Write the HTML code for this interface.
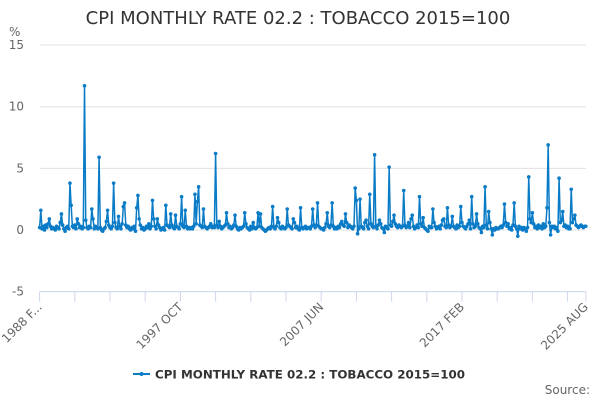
<!DOCTYPE html>
<html><head><meta charset="utf-8">
<style>
body{margin:0;background:#fff;font-family:"DejaVu Sans","Liberation Sans",sans-serif;}
svg{display:block;font-family:"DejaVu Sans","Liberation Sans",sans-serif;}
</style></head>
<body>
<svg id="chart" width="600" height="400">
<text x="298" y="24" text-anchor="middle" font-size="18" fill="#333">CPI MONTHLY RATE 02.2 : TOBACCO 2015=100</text>
<text x="9" y="36" font-size="12" fill="#666">%</text>
<g id="grid"></g><g id="yticks"></g><g id="xaxis"></g><g id="series"></g>
<g>
<line x1="133" y1="374" x2="150" y2="374" stroke="#0a7bc6" stroke-width="2"/>
<circle cx="141.5" cy="374" r="2" fill="#0a7bc6"/>
<text x="155" y="378.5" font-size="11.5" font-weight="bold" fill="#333" textLength="310" lengthAdjust="spacingAndGlyphs">CPI MONTHLY RATE 02.2 : TOBACCO 2015=100</text>
</g>
<text x="590" y="394" text-anchor="end" font-size="12" fill="#666">Source:</text>
</svg>
<script>
const yTicks=[15,10,5,0,-5];
const xTickLabels=["1988 F...","1997 OCT","2007 JUN","2017 FEB","2025 AUG"];
const xTickIdx=[0,116,232,348,450];
const values=[
0.2,1.6,0.1,0.3,0,0.4,0.2,0.5,0.9,0.3,0.1,
0.2,0.1,0,0.3,0.2,0.1,0.6,1.3,0.4,0.1,-0.1,0.2,
0.3,0.1,3.8,2.0,0.3,0.2,0.4,0.1,0.9,0.5,0.2,0.3,
0.1,0.2,11.7,0.8,0.2,0.1,0.3,0.2,1.7,0.9,0.1,0.3,
0.2,0.1,5.9,0.2,0,-0.1,0.1,0.2,0.7,1.6,0.4,0.2,
0.1,0.3,3.8,0.6,0.2,0.1,1.1,0.3,0.1,0.5,1.9,2.2,
0.4,0.2,0.3,0.1,0,0.2,0.1,0.3,-0.1,1.8,2.8,0.9,
0.4,0.1,0.2,0,0.1,0.3,0.2,0.5,0.1,0.3,2.4,0.9,
0.3,0.1,0.9,0.4,0.2,0,0.1,0.2,0,2.0,0.4,0.3,
0.2,1.3,0.4,0.2,0.1,1.2,0.3,0.2,0.1,0.5,2.7,0.3,
0.2,1.6,0.3,0.1,0.2,0.1,0.2,0.1,0.3,2.9,0.5,2.3,
3.5,0.4,0.3,0.2,1.7,0.3,0.2,0.1,0.2,0.3,0.5,0.2,
0.3,0.2,6.2,0.4,0.2,0.7,0.3,0.1,0.2,0.3,0.4,1.4,
0.5,0.2,0.3,0.1,0.2,0.4,1.2,0.3,0.1,0,0.2,0.1,
0.2,0.3,1.4,0.5,0.2,0.1,0,0.3,0.1,0.6,0.2,0.1,
0.2,1.4,0.3,1.3,0.2,0.1,0,-0.1,0,0.1,0.2,0.1,
0.3,1.9,0.2,0.1,0.3,1.0,0.6,0.2,0.1,0.3,0.2,0.1,
0.2,1.7,0.4,0.3,0.2,0.1,0.9,0.6,0.2,0.3,0.1,0,
1.8,0.2,0.1,0.2,0.3,0.1,0.2,0.2,0.1,0.3,1.7,0.4,
0.2,0.4,2.2,0.3,0.2,0.1,0.1,0,0.2,0.5,1.4,0.3,
0.2,0.4,2.2,0.3,0.1,0.2,0.1,0.3,0.2,0.5,0.7,0.4,
0.3,1.3,0.6,0.2,0.4,0.3,0.2,0.1,0.3,3.4,2.4,-0.3,
0.1,2.5,0.3,0.2,0.1,0.6,0.8,0.3,0.1,2.9,0.5,0.3,
0.2,6.1,0.3,0.1,0.4,0.8,0.5,0.2,0.1,-0.2,0.3,0.2,
0.1,5.1,0.4,0.3,0.7,1.2,0.5,0.3,0.2,0.4,0.3,0.2,
0.3,3.2,0.4,0.2,0.3,0.6,0.2,0.9,1.2,0.3,0.1,0.2,
0.4,0.2,2.7,0.5,0.3,1.0,0.2,0.1,0,-0.1,0.3,0.2,
0.2,1.7,0.6,0.3,0.1,0.2,0.3,0.1,0.4,0.8,0.9,0.3,
0.2,1.8,0.4,0.2,0.3,1.1,0.3,0.2,0.1,0.4,0.2,0.3,
1.9,0.6,0.3,0.2,0.1,0.3,0.5,0.8,0.1,2.7,0.5,0.2,
0.3,1.3,0.5,0.2,0.1,-0.2,0.3,0.2,3.5,0.4,0.1,1.5,
0.6,0.1,-0.4,0.1,0,0.2,0.1,0.1,0.2,0.3,0.2,0.4,
2.1,0.6,0.3,0.5,0.1,0.2,0,0.4,2.2,0.3,0.1,-0.5,
0.3,0.1,0.2,0,0.2,0.1,-0.1,0.2,4.3,0.9,0.6,1.4,
0.5,0.2,0.3,0.1,0.4,0.2,0.3,0.1,0.5,0.2,0.3,1.8,
6.9,0.6,-0.4,0.3,0.2,0.3,0.1,0.2,-0.1,4.2,0.6,0.8,
1.5,0.3,0.4,0.2,0.3,0.1,0.1,3.3,0.6,0.9,1.2,0.4,
0.3,0.2,0.3,0.4,0.3,0.2,0.3,0.3
];
const NS="http://www.w3.org/2000/svg";
const X0=39.6,X1=585.8,Y0=230,PPU=12.33;
const xs=i=>X0+(X1-X0)*i/(values.length-1);
const ys=v=>Y0-v*PPU;
function mk(t,a,p){const e=document.createElementNS(NS,t);for(const k in a)e.setAttribute(k,a[k]);p.appendChild(e);return e;}
const grid=document.getElementById('grid'),yt=document.getElementById('yticks');
yTicks.forEach(v=>{
 const l=mk('line',{x1:X0,x2:X1,y1:ys(v),y2:ys(v),stroke:v===-5?'#ccd6eb':'#e0e0e0','stroke-width':1},grid);
 
 
 const t=mk('text',{x:24,y:ys(v)+4,'text-anchor':'end','font-size':12,fill:'#666'},yt);
 t.textContent=v;
 
 
});
const xa=document.getElementById('xaxis');
const tickY=ys(-5);
for(let i=0;i<values.length;i+=29){
 const l=mk('line',{x1:xs(i),x2:xs(i),y1:tickY,y2:tickY+10,stroke:'#ccd6eb'},xa);
 
 
}
mk('line',{x1:X1,x2:X1,y1:tickY,y2:tickY+10,stroke:'#ccd6eb'},xa);
xTickIdx.forEach((idx,k)=>{
 const x=xs(idx)+3,y=tickY+16;
 const t=mk('text',{x:x,y:y,'text-anchor':'end','font-size':12,fill:'#666',transform:`rotate(-45 ${x} ${y})`},xa);
 t.textContent=xTickLabels[k];
 
 
});
const sg=document.getElementById('series');
const pts=values.map((v,i)=>xs(i).toFixed(2)+','+ys(v).toFixed(2)).join(' ');
const pl=mk('polyline',{points:pts,fill:'none',stroke:'#0a7bc6','stroke-width':1.5,'stroke-linejoin':'round'},sg);


values.forEach((v,i)=>{
 const c=mk('circle',{cx:xs(i),cy:ys(v),r:1.8,fill:'#0a7bc6'},sg);
 
 
});
</script>
</body></html>
